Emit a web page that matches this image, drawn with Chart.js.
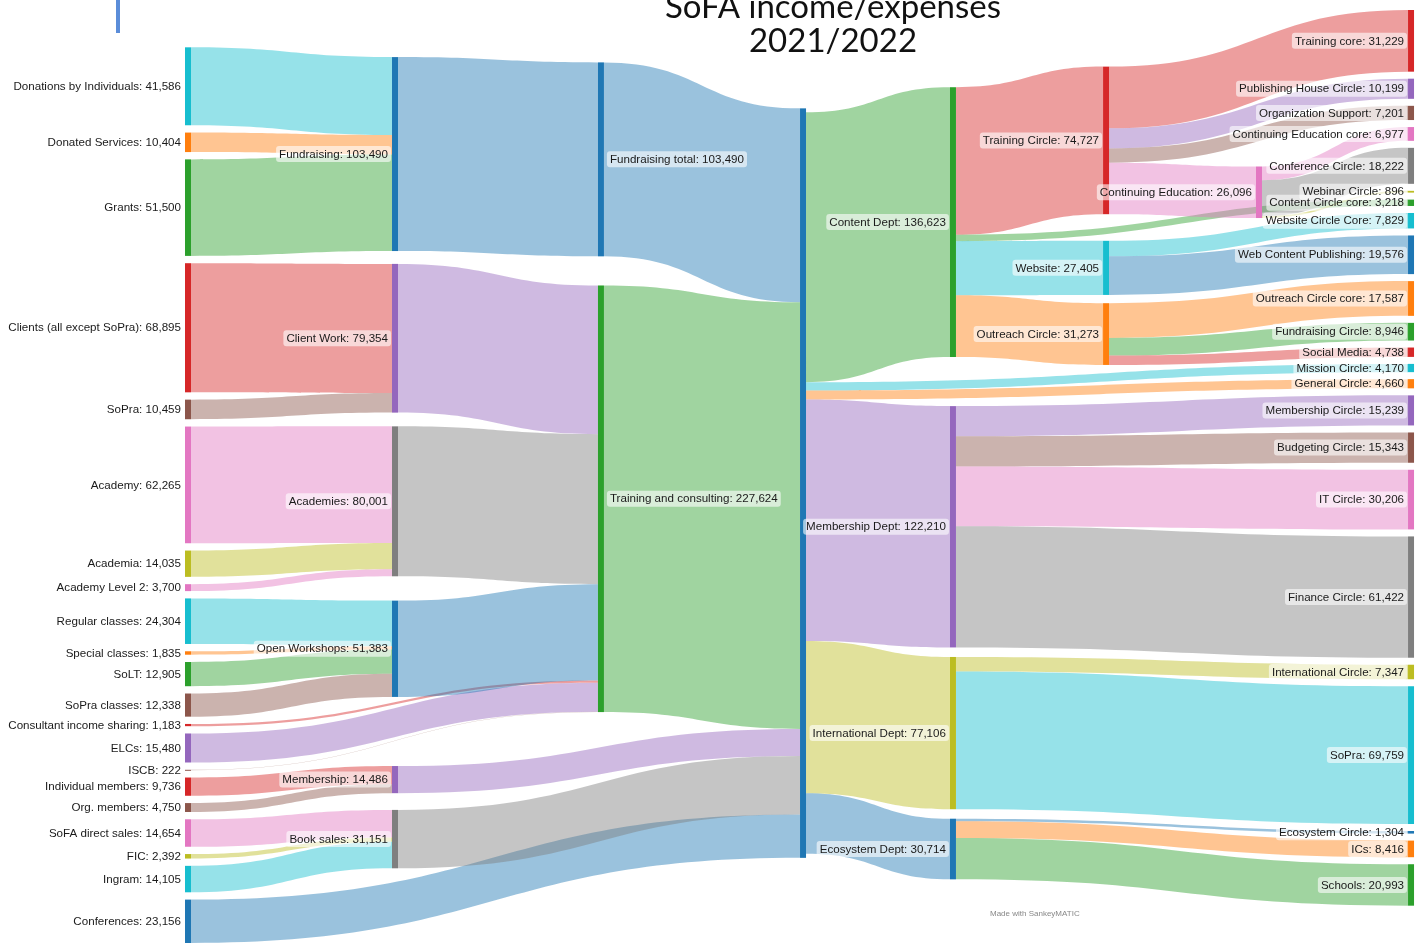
<!DOCTYPE html>
<html>
<head>
<meta charset="utf-8">
<script src="https://cdn.jsdelivr.net/npm/chart.js@4.4.1/dist/chart.umd.min.js"></script>
<style>
  html, body { margin: 0; padding: 0; background: #fff; overflow: hidden; }
  #wrap { position: relative; width: 1418px; height: 943px; }
  #mark { position: absolute; left: 116px; top: 0; width: 4px; height: 33px; background: #5b8dd9; }
</style>
</head>
<body>
<div id="wrap">
  <canvas id="chartSankey" width="1418" height="943"></canvas>
  <div id="mark"></div>
</div>
<script>
/**
 * Daten: Knoten (in Anzeigereihenfolge) und Flüsse
 */
const nodeNames = [
  'Donations by Individuals', 'Donated Services', 'Grants', 'Clients (all except SoPra)', 'SoPra',
  'Academy', 'Academia', 'Academy Level 2', 'Regular classes', 'Special classes', 'SoLT', 'SoPra classes',
  'Consultant income sharing', 'ELCs', 'ISCB', 'Individual members', 'Org. members',
  'SoFA direct sales', 'FIC', 'Ingram', 'Conferences',
  'Fundraising', 'Client Work', 'Academies', 'Open Workshops', 'Membership', 'Book sales',
  'Fundraising total', 'Training and consulting',
  'Total',
  'Content Dept', 'Membership Dept', 'International Dept', 'Ecosystem Dept',
  'Training Circle', 'Website', 'Outreach Circle',
  'Continuing Education',
  'Training core', 'Publishing House Circle', 'Organization Support', 'Continuing Education core',
  'Conference Circle', 'Webinar Circle', 'Content Circle core', 'Website Circle Core', 'Web Content Publishing',
  'Outreach Circle core', 'Fundraising Circle', 'Social Media', 'Mission Circle', 'General Circle',
  'Membership Circle', 'Budgeting Circle', 'IT Circle', 'Finance Circle', 'International Circle',
  'SoPra ', 'Ecosystem Circle', 'ICs', 'Schools'
];

const flowFrom = [
  'Donations by Individuals', 'Donated Services', 'Grants',
  'Clients (all except SoPra)', 'SoPra',
  'Academy', 'Academia', 'Academy Level 2',
  'Regular classes', 'Special classes', 'SoLT', 'SoPra classes',
  'Consultant income sharing', 'ELCs', 'ISCB',
  'Individual members', 'Org. members',
  'SoFA direct sales', 'FIC', 'Ingram',
  'Conferences',
  'Fundraising', 'Client Work', 'Academies', 'Open Workshops', 'Membership', 'Book sales',
  'Fundraising total', 'Training and consulting',
  'Total', 'Total', 'Total', 'Total', 'Total', 'Total',
  'Content Dept', 'Content Dept', 'Content Dept', 'Content Dept',
  'Training Circle', 'Training Circle', 'Training Circle', 'Training Circle',
  'Continuing Education', 'Continuing Education', 'Continuing Education',
  'Website', 'Website',
  'Outreach Circle', 'Outreach Circle', 'Outreach Circle',
  'Membership Dept', 'Membership Dept', 'Membership Dept', 'Membership Dept',
  'International Dept', 'International Dept',
  'Ecosystem Dept', 'Ecosystem Dept', 'Ecosystem Dept'
];

const flowTo = [
  'Fundraising', 'Fundraising', 'Fundraising',
  'Client Work', 'Client Work',
  'Academies', 'Academies', 'Academies',
  'Open Workshops', 'Open Workshops', 'Open Workshops', 'Open Workshops',
  'Training and consulting', 'Training and consulting', 'Training and consulting',
  'Membership', 'Membership',
  'Book sales', 'Book sales', 'Book sales',
  'Total',
  'Fundraising total', 'Training and consulting', 'Training and consulting', 'Training and consulting', 'Total', 'Total',
  'Total', 'Total',
  'Content Dept', 'Mission Circle', 'General Circle', 'Membership Dept', 'International Dept', 'Ecosystem Dept',
  'Training Circle', 'Content Circle core', 'Website', 'Outreach Circle',
  'Training core', 'Publishing House Circle', 'Organization Support', 'Continuing Education',
  'Continuing Education core', 'Conference Circle', 'Webinar Circle',
  'Website Circle Core', 'Web Content Publishing',
  'Outreach Circle core', 'Fundraising Circle', 'Social Media',
  'Membership Circle', 'Budgeting Circle', 'IT Circle', 'Finance Circle',
  'International Circle', 'SoPra ',
  'Ecosystem Circle', 'ICs', 'Schools'
];

const flowValues = [
  41586, 10404, 51500,
  68895, 10459,
  62265, 14035, 3700,
  24304, 1835, 12905, 12338,
  1183, 15480, 222,
  9736, 4750,
  14654, 2392, 14105,
  23156,
  103490, 79354, 80001, 51383, 14486, 31151,
  103490, 227624,
  136623, 4170, 4660, 122210, 77106, 30714,
  74727, 3218, 27405, 31273,
  31229, 10199, 7201, 26096,
  6977, 18222, 896,
  7829, 19576,
  17587, 8946, 4738,
  15239, 15343, 30206, 61422,
  7347, 69759,
  1304, 8416, 20993
];

// Farben (d3 category10)
const C = {
  blue: '#1f77b4', orange: '#ff7f0e', green: '#2ca02c', red: '#d62728', purple: '#9467bd',
  brown: '#8c564b', pink: '#e377c2', gray: '#7f7f7f', olive: '#bcbd22', cyan: '#17becf'
};
const nodeColors = [
  C.cyan, C.orange, C.green, C.red, C.brown,
  C.pink, C.olive, C.pink, C.cyan, C.orange, C.green, C.brown,
  C.red, C.purple, C.brown, C.red, C.brown,
  C.pink, C.olive, C.cyan, C.blue,
  C.blue, C.purple, C.gray, C.blue, C.purple, C.gray,
  C.blue, C.green,
  C.blue,
  C.green, C.purple, C.olive, C.blue,
  C.red, C.cyan, C.orange,
  C.pink,
  C.red, C.purple, C.brown, C.pink,
  C.gray, C.olive, C.green, C.cyan, C.blue,
  C.orange, C.green, C.red, C.cyan, C.orange,
  C.purple, C.brown, C.pink, C.gray, C.olive,
  C.cyan, C.blue, C.orange, C.green
];

// Layout: Einnahmen (links) und Ausgaben (rechts) je mit eigener y-Achse
const CENTER = 'Total';
const CENTER_LAYER = 3;
const PAD_LEFT = 3900;          // Knotenabstand in Werteinheiten
const PAD_RIGHT = 3550;
const LEFT_SPAN = [0.04, 1];    // Anteil der Zeichenfläche
const RIGHT_SPAN = [0, 0.96];
const NODE_WIDTH = 6;
const ITERATIONS = 32;
const columnPos = [0, 1.179, 2.352, 3.503, 4.357, 5.229, 6.100, 6.966];
const LABEL_AFTER = [2];
const LABEL_FONT = '11.6px "Liberation Sans", Arial, sans-serif';

function sumLinks(links) { return links.reduce((s, l) => s + l.value, 0); }
function sumNodes(nodes) { return nodes.reduce((s, n) => s + n.value, 0); }

/**
 * layoutPart: Sankey-Layout (d3-sankey Verfahren) für einen Teil der Flüsse
 */
function layoutPart(flowIdx, layerOffset, py, fixedY0) {
  const nodes = [];
  const byName = new Map();
  const getNode = name => {
    if (!byName.has(name)) {
      const index = nodeNames.indexOf(name);
      byName.set(name, { name, index, color: nodeColors[index], sourceLinks: [], targetLinks: [] });
    }
    return byName.get(name);
  };
  const links = flowIdx.map(i => {
    const source = getNode(flowFrom[i]);
    const target = getNode(flowTo[i]);
    const link = { source, target, value: flowValues[i], width: flowValues[i], index: i };
    source.sourceLinks.push(link);
    target.targetLinks.push(link);
    return link;
  });
  byName.forEach(n => nodes.push(n));
  nodes.sort((a, b) => a.index - b.index);
  nodes.forEach(n => { n.value = Math.max(sumLinks(n.sourceLinks), sumLinks(n.targetLinks)); });

  let current = new Set(nodes), depth = 0;
  while (current.size) {
    const next = new Set();
    current.forEach(n => { n.depth = depth; n.sourceLinks.forEach(l => next.add(l.target)); });
    current = next;
    depth++;
  }
  const maxDepth = depth - 1;
  nodes.forEach(n => { n.col = n.sourceLinks.length ? n.depth : maxDepth; n.layer = n.col + layerOffset; });

  const columns = [];
  for (let i = 0; i <= maxDepth; i++) columns.push(nodes.filter(n => n.col === i));

  const height = Math.max(...columns.map(c => sumNodes(c) + (c.length - 1) * py));

  columns.forEach(c => {
    let y = 0;
    c.forEach(n => { n.y0 = y; n.y1 = y + n.value; y = n.y1 + py; });
    const extra = (height - y + py) / (c.length + 1);
    c.forEach((n, i) => { n.y0 += extra * (i + 1); n.y1 += extra * (i + 1); });
  });
  if (fixedY0) {
    const f = byName.get(CENTER);
    f.fixed = true;
    f.y0 = fixedY0(height, f.value);
    f.y1 = f.y0 + f.value;
  }

  const byTarget = (a, b) => (a.target.y0 - b.target.y0) || (a.index - b.index);
  const bySource = (a, b) => (a.source.y0 - b.source.y0) || (a.index - b.index);
  const reorderAll = () => nodes.forEach(n => { n.sourceLinks.sort(byTarget); n.targetLinks.sort(bySource); });
  const reorderNode = node => {
    node.targetLinks.forEach(l => l.source.sourceLinks.sort(byTarget));
    node.sourceLinks.forEach(l => l.target.targetLinks.sort(bySource));
  };
  function targetTop(source, target) {
    let y = source.y0 - (source.sourceLinks.length - 1) * py / 2;
    for (const l of source.sourceLinks) { if (l.target === target) break; y += l.width + py; }
    for (const l of target.targetLinks) { if (l.source === source) break; y -= l.width; }
    return y;
  }
  function sourceTop(source, target) {
    let y = target.y0 - (target.targetLinks.length - 1) * py / 2;
    for (const l of target.targetLinks) { if (l.source === source) break; y += l.width + py; }
    for (const l of source.sourceLinks) { if (l.target === target) break; y -= l.width; }
    return y;
  }
  const move = (n, dy) => { if (!n.fixed) { n.y0 += dy; n.y1 += dy; } };
  function downward(c, y, i, alpha) {
    for (; i < c.length; ++i) {
      const dy = (y - c[i].y0) * alpha;
      if (dy > 1e-6) move(c[i], dy);
      y = c[i].y1 + py;
    }
  }
  function upward(c, y, i, alpha) {
    for (; i >= 0; --i) {
      const dy = (c[i].y1 - y) * alpha;
      if (dy > 1e-6) move(c[i], -dy);
      y = c[i].y0 - py;
    }
  }
  function resolve(c, alpha) {
    const i = c.length >> 1;
    upward(c, c[i].y0 - py, i - 1, alpha);
    downward(c, c[i].y1 + py, i + 1, alpha);
    upward(c, height, c.length - 1, alpha);
    downward(c, 0, 0, alpha);
  }
  function relaxLeftToRight(alpha, beta) {
    for (let i = 1; i < columns.length; i++) {
      columns[i].forEach(target => {
        let y = 0, w = 0;
        target.targetLinks.forEach(l => {
          const v = l.value * (target.col - l.source.col);
          y += targetTop(l.source, target) * v; w += v;
        });
        if (!(w > 0)) return;
        move(target, (y / w - target.y0) * alpha);
        reorderNode(target);
      });
      resolve(columns[i], beta);
    }
  }
  function relaxRightToLeft(alpha, beta) {
    for (let i = columns.length - 2; i >= 0; i--) {
      columns[i].forEach(source => {
        let y = 0, w = 0;
        source.sourceLinks.forEach(l => {
          const v = l.value * (l.target.col - source.col);
          y += sourceTop(source, l.target) * v; w += v;
        });
        if (!(w > 0)) return;
        move(source, (y / w - source.y0) * alpha);
        reorderNode(source);
      });
      resolve(columns[i], beta);
    }
  }

  reorderAll();
  for (let i = 0; i < ITERATIONS; i++) {
    const alpha = Math.pow(0.99, i);
    const beta = Math.max(1 - alpha, (i + 1) / ITERATIONS);
    relaxRightToLeft(alpha, beta);
    relaxLeftToRight(alpha, beta);
  }
  reorderAll();

  nodes.forEach(n => {
    let y0 = n.y0, y1 = n.y0;
    n.sourceLinks.forEach(l => { l.y0 = y0 + l.width / 2; y0 += l.width; });
    n.targetLinks.forEach(l => { l.y1 = y1 + l.width / 2; y1 += l.width; });
  });
  return { nodes, links, height };
}

// Achsenbereich so, dass [0, h] auf den Anteil span der Fläche fällt
function axisRange(h, span) {
  const min = -span[0] * h / (span[1] - span[0]);
  return { min, max: min + h / (span[1] - span[0]) };
}

const incomeIdx = flowValues.map((v, i) => i).filter(i => flowFrom[i] !== CENTER);
const expenseIdx = flowValues.map((v, i) => i).filter(i => flowFrom[i] !== CENTER ? false : true)
  .concat(flowValues.map((v, i) => i).filter(i => flowFrom[i] !== CENTER && !incomeReaches(flowFrom[i])));

function incomeReaches(name) {
  // true, wenn der Knoten auf der Einnahmenseite liegt (führt zum Zentrum)
  let frontier = [name];
  const seen = new Set();
  while (frontier.length) {
    const n = frontier.pop();
    if (n === CENTER) return true;
    if (seen.has(n)) continue;
    seen.add(n);
    flowFrom.forEach((f, i) => { if (f === n) frontier.push(flowTo[i]); });
  }
  return false;
}

const leftIdx = flowValues.map((v, i) => i).filter(i => incomeReaches(flowFrom[i]) && flowFrom[i] !== CENTER);
const rightIdx = flowValues.map((v, i) => i).filter(i => !leftIdx.includes(i));

const left = layoutPart(leftIdx, 0, PAD_LEFT, null);
const leftRange = axisRange(left.height, LEFT_SPAN);
const centerLeft = left.nodes.find(n => n.name === CENTER);

const right = layoutPart(rightIdx, CENTER_LAYER, PAD_RIGHT, (h, value) => {
  const rr = axisRange(h, RIGHT_SPAN);
  const mid = (centerLeft.y0 + centerLeft.y1) / 2;
  const frac = (mid - leftRange.min) / (leftRange.max - leftRange.min);
  return rr.min + frac * (rr.max - rr.min) - value / 2;
});
const rightRange = axisRange(right.height, RIGHT_SPAN);

function hexToRgba(hex, a) {
  const v = parseInt(hex.slice(1), 16);
  return 'rgba(' + (v >> 16 & 255) + ',' + (v >> 8 & 255) + ',' + (v & 255) + ',' + a + ')';
}

function drawLabel(ctx, text, x, y, after) {
  ctx.font = LABEL_FONT;
  const w = ctx.measureText(text).width;
  const bx = after ? x - 3 : x - w - 3;
  ctx.fillStyle = 'rgba(255,255,255,0.6)';
  ctx.beginPath();
  ctx.roundRect(bx, y - 8, w + 6, 16, 3);
  ctx.fill();
  ctx.fillStyle = '#1a1a1a';
  ctx.textAlign = after ? 'left' : 'right';
  ctx.textBaseline = 'middle';
  ctx.fillText(text, x, y + 0.5);
}

/**
 * sankeyPlugin: zeichnet Flüsse, Knoten und Beschriftungen über die Achsen des Charts
 */
const sankeyPlugin = {
  id: 'sankeyPlugin',
  afterDatasetsDraw(chart) {
    const ctx = chart.ctx;
    const xs = chart.scales.x;
    const X0 = n => xs.getPixelForValue(columnPos[n.layer]);
    const X1 = n => X0(n) + NODE_WIDTH;
    const parts = [
      { part: left, ys: chart.scales.y, color: l => l.source.color },
      { part: right, ys: chart.scales.y2, color: l => l.target.color }
    ];
    ctx.save();

    parts.forEach(({ part, ys, color }) => {
      part.links.forEach(l => {
        const w = l.width / 2;
        const xa = X1(l.source), xb = X0(l.target), xm = (xa + xb) / 2;
        const sTop = ys.getPixelForValue(l.y0 - w), sBot = ys.getPixelForValue(l.y0 + w);
        const tTop = ys.getPixelForValue(l.y1 - w), tBot = ys.getPixelForValue(l.y1 + w);
        ctx.fillStyle = hexToRgba(color(l), 0.45);
        ctx.beginPath();
        ctx.moveTo(xa, sTop);
        ctx.bezierCurveTo(xm, sTop, xm, tTop, xb, tTop);
        ctx.lineTo(xb, tBot);
        ctx.bezierCurveTo(xm, tBot, xm, sBot, xa, sBot);
        ctx.closePath();
        ctx.fill();
      });
    });

    parts.forEach(({ part, ys }) => {
      part.nodes.forEach(n => {
        if (part === right && n.name === CENTER) return;
        const top = ys.getPixelForValue(n.y0), bot = ys.getPixelForValue(n.y1);
        ctx.fillStyle = n.color;
        ctx.fillRect(X0(n), top, NODE_WIDTH, Math.max(bot - top, 1));
      });
    });

    parts.forEach(({ part, ys }) => {
      part.nodes.forEach(n => {
        if (n.name === CENTER) return;
        const yc = (ys.getPixelForValue(n.y0) + ys.getPixelForValue(n.y1)) / 2;
        const after = LABEL_AFTER.includes(n.layer);
        const text = n.name.trim() + ': ' + n.value.toLocaleString('en-US');
        drawLabel(ctx, text, after ? X1(n) + 6 : X0(n) - 4, yc, after);
      });
    });

    // Titel und Hinweis
    ctx.fillStyle = '#111';
    ctx.textAlign = 'center';
    ctx.textBaseline = 'alphabetic';
    ctx.font = '33px Lato, "Open Sans", sans-serif';
    ctx.fillText('SoFA income/expenses', 833, 18);
    ctx.fillText('2021/2022', 833, 52);
    ctx.font = '8px "Liberation Sans", Arial, sans-serif';
    ctx.fillStyle = '#888';
    ctx.textAlign = 'left';
    ctx.fillText('Made with SankeyMATIC', 990, 916);
    ctx.restore();
  }
};

const chart = new Chart(document.getElementById('chartSankey'), {
  type: 'scatter',
  data: { datasets: [] },
  options: {
    responsive: false,
    animation: false,
    layout: { padding: { left: 185, right: 4, top: 10, bottom: 0 } },
    scales: {
      x: { type: 'linear', min: 0, max: 7, display: false },
      y: { type: 'linear', min: leftRange.min, max: leftRange.max, reverse: true, display: false },
      y2: { type: 'linear', min: rightRange.min, max: rightRange.max, reverse: true, display: false }
    },
    plugins: { legend: { display: false }, tooltip: { enabled: false } }
  },
  plugins: [sankeyPlugin]
});
</script>
</body>
</html>
